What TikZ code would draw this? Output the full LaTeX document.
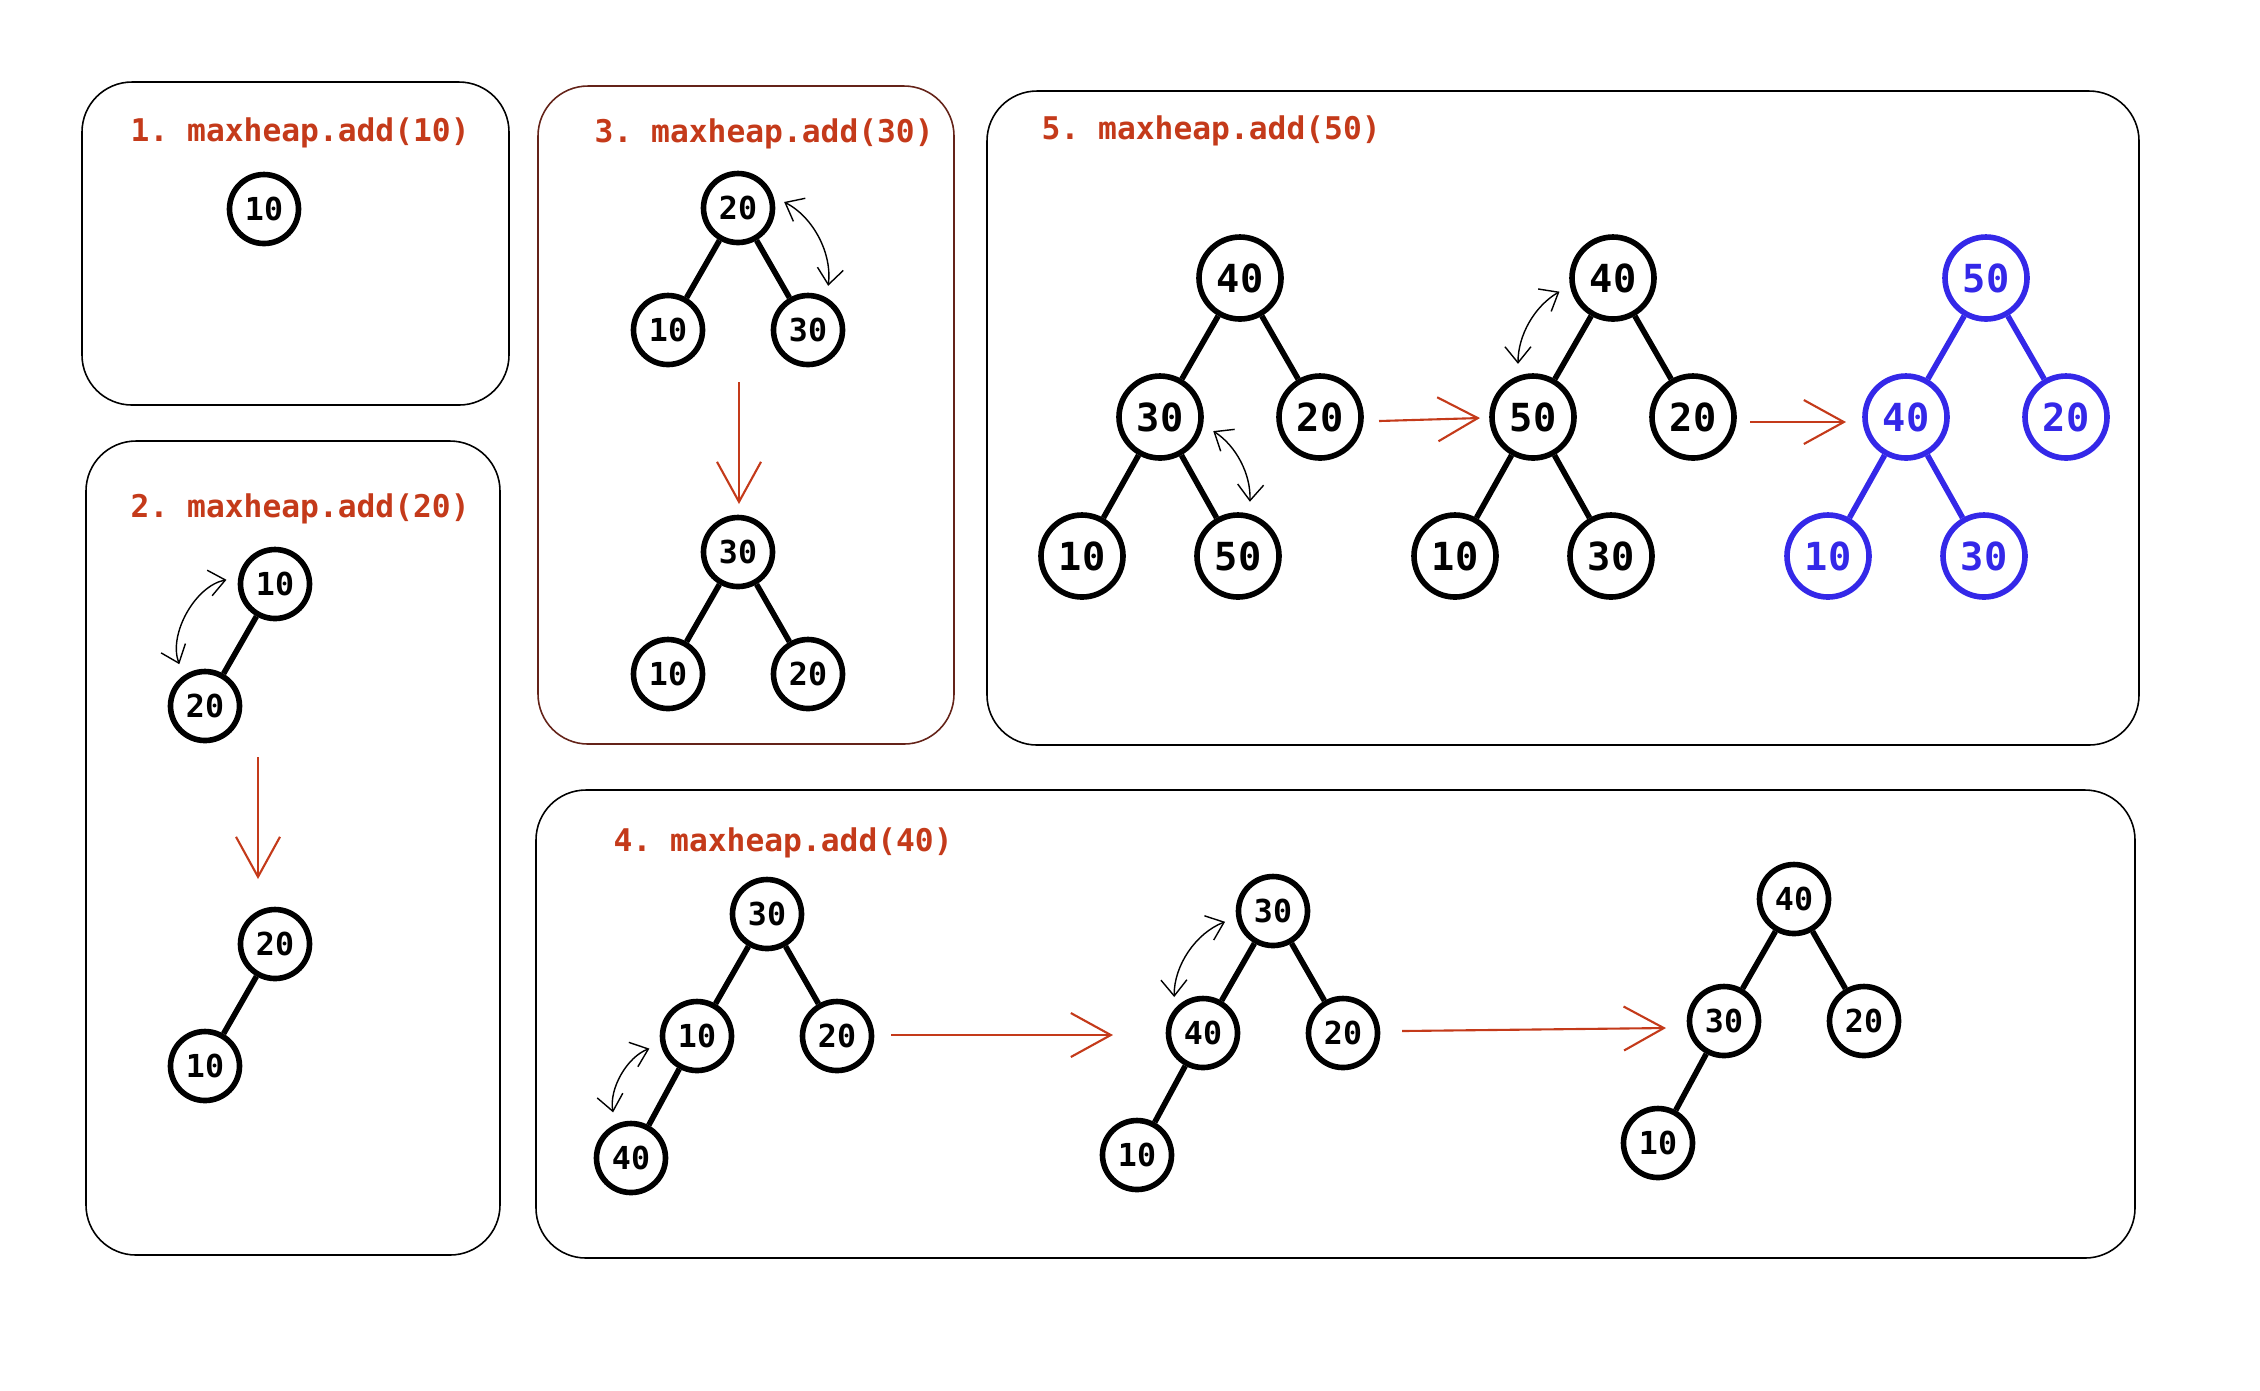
\documentclass[tikz,border=0pt]{standalone}
\usepackage{fontspec}
\setmonofont{DejaVu Sans Mono}
\usepackage{tikz}
\usetikzlibrary{arrows.meta,trees}
\definecolor{titlered}{RGB}{196,58,26}
\definecolor{heapblue}{RGB}{52,40,232}
\definecolor{boxbrown}{RGB}{100,35,25}

\begin{document}
\begin{tikzpicture}
\tikzstyle{stagebox}=[draw,line width=0.45pt,rounded corners=0.5cm]
\tikzstyle{stagetitle}=[anchor=west,inner sep=0pt,text=titlered,font=\ttfamily\bfseries\fontsize{8.9}{10}\selectfont]
\tikzstyle{hnode}=[circle,draw,line width=1.6pt,minimum size=0.69cm,inner sep=0pt,font=\ttfamily\bfseries\fontsize{9}{10}\selectfont]
\tikzstyle{bignode}=[hnode,minimum size=0.82cm,font=\ttfamily\bfseries\fontsize{11}{12}\selectfont]
\tikzstyle{edge from parent}=[draw,line width=1.6pt]
\tikzstyle{swaparrow}=[{Straight Barb[length=1.6mm,width=2.6mm]}-{Straight Barb[length=1.6mm,width=2.6mm]},line width=0.4pt,shorten <=1.2mm,shorten >=1.2mm]
\tikzstyle{nextstate}=[-{Straight Barb[length=4mm,width=4.4mm]},titlered,line width=0.6pt]
\tikzset{every child node/.style={hnode},level distance=1.22cm,sibling distance=1.40cm}
\useasboundingbox (0,0) rectangle (22.6,-13.9);

% frames
\draw[stagebox] (0.82,-0.82) rectangle (5.09,-4.05);
\draw[stagebox] (0.86,-4.41) rectangle (5.00,-12.55);
\draw[stagebox,boxbrown] (5.38,-0.86) rectangle (9.54,-7.44);
\draw[stagebox] (9.87,-0.91) rectangle (21.39,-7.45);
\draw[stagebox] (5.36,-7.90) rectangle (21.35,-12.58);

\node[stagetitle] (title1) at (1.30,-1.33) {1. maxheap.add(10)};
\node[stagetitle] (title2) at (1.30,-5.09) {2. maxheap.add(20)};
\node[stagetitle] (title3) at (5.94,-1.34) {3. maxheap.add(30)};
\node[stagetitle] (title4) at (6.13,-8.43) {4. maxheap.add(40)};
\node[stagetitle] (title5) at (10.41,-1.31) {5. maxheap.add(50)};

% 1. add 10
\node[hnode] (b1n10) at (2.64,-2.09) {10};

% 2. add 20
\node[hnode] (b2a10) at (2.75,-5.84) {10}
child {node (b2a20) {20}}
child[missing];
\node[hnode] (b2b20) at (2.75,-9.44) {20}
child {node (b2b10) {10}}
child[missing];
\coordinate (b2from) at (2.58,-7.57);
\coordinate (b2to) at (2.58,-8.79);
\draw[nextstate] (b2from) -- (b2to);
\draw[swaparrow] (b2a10.170) to[bend right=50] (b2a20.125);

% 3. add 30
\node[hnode] (b3a20) at (7.38,-2.08) {20}
child {node (b3a10) {10}}
child {node (b3a30) {30}};
\node[hnode] (b3b30) at (7.38,-5.52) {30}
child {node (b3b10) {10}}
child {node (b3b20) {20}};
\coordinate (b3from) at (7.39,-3.82);
\coordinate (b3to) at (7.39,-5.04);
\draw[nextstate] (b3from) -- (b3to);
\draw[swaparrow] (b3a20.18) to[bend left=35] (b3a30.60);

% 4. add 40
\begin{scope}[level 2/.style={sibling distance=1.32cm}]
\node[hnode] (t4a30) at (7.67,-9.14) {30}
child {node (t4a10) {10}
  child {node (t4a40) {40}}
  child[missing]}
child {node (t4a20) {20}};
\node[hnode] (t4b30) at (12.73,-9.11) {30}
child {node (t4b40) {40}
  child {node (t4b10) {10}}
  child[missing]}
child {node (t4b20) {20}};
\node[hnode] (t4c40) at (17.94,-8.99) {40}
child {node (t4c30) {30}
  child {node (t4c10) {10}}
  child[missing]}
child {node (t4c20) {20}};
\end{scope}
\coordinate (t4from1) at (8.91,-10.35);
\coordinate (t4to1) at (11.13,-10.35);
\coordinate (t4from2) at (14.02,-10.31);
\coordinate (t4to2) at (16.66,-10.28);
\draw[nextstate] (t4from1) -- (t4to1);
\draw[nextstate] (t4from2) -- (t4to2);
\draw[swaparrow] (t4a10.193) to[bend right=40] (t4a40.115);
\draw[swaparrow] (t4b30.190) to[bend right=35] (t4b40.140);

% 5. add 50
\begin{scope}[every child node/.style={bignode},level distance=1.39cm,
  level 1/.style={sibling distance=1.60cm},level 2/.style={sibling distance=1.56cm}]
\node[bignode] (t5a40) at (12.40,-2.78) {40}
child {node (t5a30) {30}
  child {node (t5a10) {10}}
  child {node (t5a50) {50}}}
child {node (t5a20) {20}};
\node[bignode] (t5b40) at (16.13,-2.78) {40}
child {node (t5b50) {50}
  child {node (t5b10) {10}}
  child {node (t5b30) {30}}}
child {node (t5b20) {20}};
\begin{scope}[heapblue]
\node[bignode] (t5c50) at (19.86,-2.78) {50}
child {node (t5c40) {40}
  child {node (t5c10) {10}}
  child {node (t5c30) {30}}}
child {node (t5c20) {20}};
\end{scope}
\end{scope}
\coordinate (t5from1) at (13.79,-4.21);
\coordinate (t5to1) at (14.80,-4.18);
\coordinate (t5from2) at (17.50,-4.22);
\coordinate (t5to2) at (18.46,-4.22);
\draw[nextstate] (t5from1) -- (t5to1);
\draw[nextstate] (t5from2) -- (t5to2);
\draw[swaparrow] (t5a30.-10) to[bend left=30] (t5a50.75);
\draw[swaparrow] (t5b40.190) to[bend right=30] (t5b50.110);
\end{tikzpicture}
\end{document}
